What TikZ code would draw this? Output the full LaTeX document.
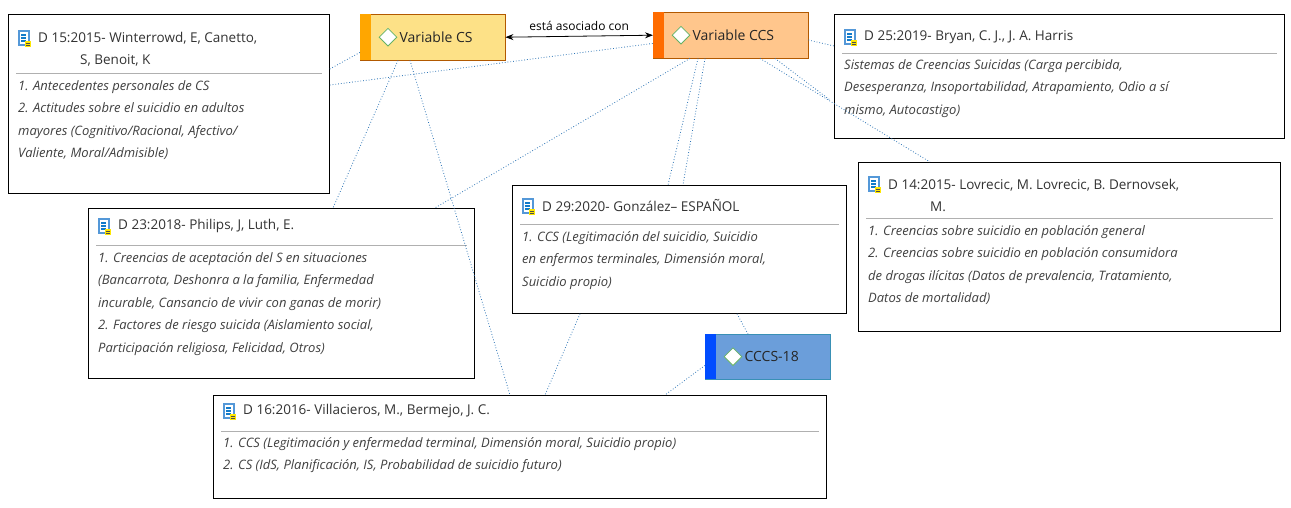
\documentclass[tikz,border=0pt]{standalone}
\usepackage{fontspec}
\setmainfont{Open Sans}
\usetikzlibrary{arrows.meta,positioning,calc,shapes.geometric}

\definecolor{linkblue}{HTML}{2E75B6}
\definecolor{rulegray}{HTML}{B0B0B0}
\definecolor{bodygray}{HTML}{404040}

\tikzset{
  docbox/.style={draw=black, thick, fill=white, rectangle, anchor=north west, inner sep=0},
  doctitle/.style={anchor=west, inner sep=0, text=black!80, font=\fontsize{13.5}{22}\selectfont, align=left},
  docbody/.style={anchor=north west, inner sep=0, text=bodygray, font=\fontsize{13}{22.5}\selectfont\itshape, align=left},
  code/.style={draw=#1!70!black, thin, rectangle, anchor=north west, inner sep=0},
  link/.style={draw=linkblue, thick, dotted},
  pics/docic/.style={code={
    \fill[cyan!60!blue!70] (0,-8) rectangle (12,8);
    \fill[white] (2,-6) rectangle (10,6);
    \foreach \k in {-3,0,3} \draw[cyan!60!blue, line width=1.2] (3,\k) -- (8,\k);
    \fill[yellow!90!orange] (7,3) rectangle (13,9);
    \draw[black!70, line width=0.8] (8,5) -- (12,5) (8,7) -- (12,7);
  }}
}

\begin{document}
\begin{tikzpicture}[x=1pt, y=-1pt]
  \useasboundingbox (0,0) rectangle (1291,507);

  % Document boxes
  \node[docbox, minimum width=321, minimum height=179] (d15) at (8,14) {};
  \node[docbox, minimum width=450, minimum height=124] (d25) at (834,14) {};
  \node[docbox, minimum width=422, minimum height=169] (d14) at (858,162) {};
  \node[docbox, minimum width=386, minimum height=170] (d23) at (88,208) {};
  \node[docbox, minimum width=334, minimum height=128] (d29) at (512,185) {};
  \node[docbox, minimum width=613, minimum height=103] (d16) at (213,395) {};

  % Titles
  \pic at ($(d15.north west)+(10,24)$) {docic};
  \node[doctitle] (t15) at ($(d15.north west)+(30,35)$) {D 15:2015- Winterrowd, E, Canetto,\\\hspace*{42pt}S, Benoit, K};
  \pic at ($(d25.north west)+(10,23)$) {docic};
  \node[doctitle] (t25) at ($(d25.north west)+(30,23)$) {D 25:2019- Bryan, C. J., J. A. Harris};
  \pic at ($(d14.north west)+(10,22)$) {docic};
  \node[doctitle] (t14) at ($(d14.north west)+(30,33)$) {D 14:2015- Lovrecic, M. Lovrecic, B. Dernovsek,\\\hspace*{42pt}M.};
  \pic at ($(d23.north west)+(10,18)$) {docic};
  \node[doctitle] (t23) at ($(d23.north west)+(30,18)$) {D 23:2018- Philips, J, Luth, E.};
  \pic at ($(d29.north west)+(10,21)$) {docic};
  \node[doctitle] (t29) at ($(d29.north west)+(30,21)$) {D 29:2020- González– ESPAÑOL};
  \pic at ($(d16.north west)+(10,16)$) {docic};
  \node[doctitle] (t16) at ($(d16.north west)+(30,16)$) {D 16:2016- Villacieros, M., Bermejo, J. C.};

  % Separator rules
  \draw[rulegray, thick] ($(d15.north west)+(8,59)$) -- ($(d15.north east)+(-8,59)$);
  \draw[rulegray, thick] ($(d25.north west)+(8,39)$) -- ($(d25.north east)+(-8,39)$);
  \draw[rulegray, thick] ($(d14.north west)+(8,56)$) -- ($(d14.north east)+(-8,56)$);
  \draw[rulegray, thick] ($(d23.north west)+(8,37)$) -- ($(d23.north east)+(-8,37)$);
  \draw[rulegray, thick] ($(d29.north west)+(8,39)$) -- ($(d29.north east)+(-8,39)$);
  \draw[rulegray, thick] ($(d16.north west)+(8,36)$) -- ($(d16.north east)+(-8,36)$);

  % Bodies
  \node[docbody] (b15) at ($(d15.north west)+(10,66)$) {1. Antecedentes personales de CS\\2. Actitudes sobre el suicidio en adultos\\mayores (Cognitivo/Racional, Afectivo/\\Valiente, Moral/Admisible)};
  \node[docbody] (b25) at ($(d25.north west)+(10,45)$) {Sistemas de Creencias Suicidas (Carga percibida,\\Desesperanza, Insoportabilidad, Atrapamiento, Odio a sí\\mismo, Autocastigo)};
  \node[docbody] (b14) at ($(d14.north west)+(10,63)$) {1. Creencias sobre suicidio en población general\\2. Creencias sobre suicidio en población consumidora\\de drogas ilícitas (Datos de prevalencia, Tratamiento,\\Datos de mortalidad)};
  \node[docbody] (b23) at ($(d23.north west)+(10,44)$) {1. Creencias de aceptación del S en situaciones\\(Bancarrota, Deshonra a la familia, Enfermedad\\incurable, Cansancio de vivir con ganas de morir)\\2. Factores de riesgo suicida (Aislamiento social,\\Participación religiosa, Felicidad, Otros)};
  \node[docbody] (b29) at ($(d29.north west)+(10,46)$) {1. CCS (Legitimación del suicidio, Suicidio\\en enfermos terminales, Dimensión moral,\\Suicidio propio)};
  \node[docbody] (b16) at ($(d16.north west)+(10,42)$) {1. CCS (Legitimación y enfermedad terminal, Dimensión moral, Suicidio propio)\\2. CS (IdS, Planificación, IS, Probabilidad de suicidio futuro)};

  % Codes
  \node[code=orange, fill=yellow!55!orange!45, minimum width=145, minimum height=46] (cs) at (360,14) {};
  \fill[orange!70!yellow] (cs.north west) rectangle ($(cs.south west)+(11,0)$);
  \node[code=orange, fill=orange!45!white, minimum width=155, minimum height=46] (ccs) at (653,12) {};
  \fill[orange!85!red] (ccs.north west) rectangle ($(ccs.south west)+(11,0)$);
  \node[code=cyan, fill=cyan!55!blue!60, minimum width=125, minimum height=45] (cccs) at (705,334) {};
  \fill[blue!70!cyan] (cccs.north west) rectangle ($(cccs.south west)+(11,0)$);
  \foreach \c/\t in {cs/Variable CS, ccs/Variable CCS, cccs/CCCS-18} {
    \node[diamond, draw=green!50!black!60, fill=white, thick, inner sep=4.5pt] (\c-d) at ($(\c.west)+(28,0)$) {};
    \node[anchor=west, font=\fontsize{14}{16}\selectfont, text=black!85, inner sep=0] (\c-t) at ($(\c-d.east)+(2,0)$) {\t};
  }

  % Relation
  \draw[{Stealth[length=8]}-{Stealth[length=8]}, thick] (cs.east) -- node[above, font=\fontsize{12}{14}\selectfont, yshift=2] (rel) {está asociado con} (ccs.west);

  % Links
  \draw[link] ($(d15.north east)+(0,55)$) -- ($(cs.south west)+(0,-8)$);
  \draw[link] ($(d15.north east)+(0,71)$) -- ($(ccs.south west)+(0,-15)$);
  \draw[link] ($(cs.south west)+(38,0)$) -- ($(d23.north west)+(245,0)$);
  \draw[link] ($(cs.south west)+(50,0)$) -- ($(d16.north west)+(297,0)$);
  \draw[link] ($(ccs.south west)+(37,0)$) -- ($(d23.north east)+(-40,0)$);
  \draw[link] ($(ccs.south west)+(45,0)$) -- ($(d29.north west)+(156,0)$);
  \draw[link] ($(ccs.south west)+(52,0)$) -- ($(d29.north west)+(171,0)$);
  \draw[link] ($(ccs.south west)+(107,0)$) -- ($(d14.north west)+(72,0)$);
  \draw[link] ($(ccs.south west)+(122,0)$) -- ($(d25.north west)+(-4,86)$);
  \draw[link] ($(ccs.north east)+(0,28)$) -- ($(d25.north west)+(0,32)$);
  \draw[link] ($(d29.south west)+(225,0)$) -- ($(cccs.north west)+(43,0)$);
  \draw[link] ($(d29.south west)+(68,0)$) -- ($(d16.north west)+(332,0)$);
  \draw[link] ($(cccs.south west)+(0,-14)$) -- ($(d16.north west)+(452,0)$);
\end{tikzpicture}
\end{document}
